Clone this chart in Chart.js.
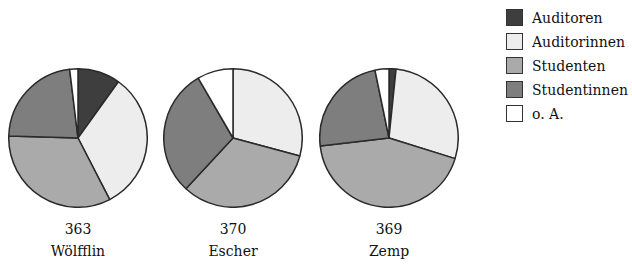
<!DOCTYPE html>
<html>
<head>
<meta charset="utf-8">
<script src="https://cdn.jsdelivr.net/npm/chart.js@4/dist/chart.umd.min.js"></script>
<style>
  body { margin: 0; background: #fff; }
  #wrap { position: relative; width: 632px; height: 266px; font-family: "DejaVu Serif", serif; color: #111; }
  .pie { position: absolute; top: 68px; width: 140px; height: 138px; }
  .lbl { position: absolute; top: 218px; width: 120px; text-align: center; font-size: 14px; line-height: 22px; }
  #legend { position: absolute; left: 506px; top: 8px; font-size: 14px; }
  #legend div { height: 24px; line-height: 20px; white-space: nowrap; }
  #legend span { display: inline-block; width: 15px; height: 15px; border: 1px solid #333; vertical-align: -3px; margin-right: 9px; }
</style>
</head>
<body>
<div id="wrap">
  <canvas id="p0" class="pie"></canvas>
  <canvas id="p1" class="pie"></canvas>
  <canvas id="p2" class="pie"></canvas>
  <div id="legend"></div>
</div>
<script>
// categories (legend order)
const categories = ["Auditoren", "Auditorinnen", "Studenten", "Studentinnen", "o. A."];
const colors = ["#3e3e3e", "#ededed", "#aaaaaa", "#7e7e7e", "#ffffff"];

// one pie per lecturer
const names = ["Wölfflin", "Escher", "Zemp"];
const totals = [363, 370, 369];

// counts per category
const woelfflin = [36, 118, 120, 82, 7];
const escher = [0, 108, 121, 110, 31];
const zemp = [6, 104, 160, 87, 12];
const seriesList = [woelfflin, escher, zemp];

const centersX = [78, 233, 389];

const wrap = document.getElementById("wrap");

seriesList.forEach((values, i) => {
  const canvas = document.getElementById("p" + i);
  canvas.style.left = (centersX[i] - 70) + "px";

  new Chart(canvas.getContext("2d"), {
    type: "pie",
    data: {
      labels: categories,
      datasets: [{
        data: values,
        backgroundColor: colors,
        borderColor: "#2a2a2a",
        borderWidth: 1.5
      }]
    },
    options: {
      responsive: false,
      animation: false,
      plugins: {
        legend: { display: false },
        tooltip: { enabled: false }
      }
    }
  });

  const lbl = document.createElement("div");
  lbl.className = "lbl";
  lbl.style.left = (centersX[i] - 60) + "px";
  lbl.innerHTML = totals[i] + "<br>" + names[i];
  wrap.appendChild(lbl);
});

// legend
const legend = document.getElementById("legend");
categories.forEach((c, i) => {
  const row = document.createElement("div");
  row.innerHTML = '<span style="background:' + colors[i] + '"></span>' + c;
  legend.appendChild(row);
});
</script>
</body>
</html>
